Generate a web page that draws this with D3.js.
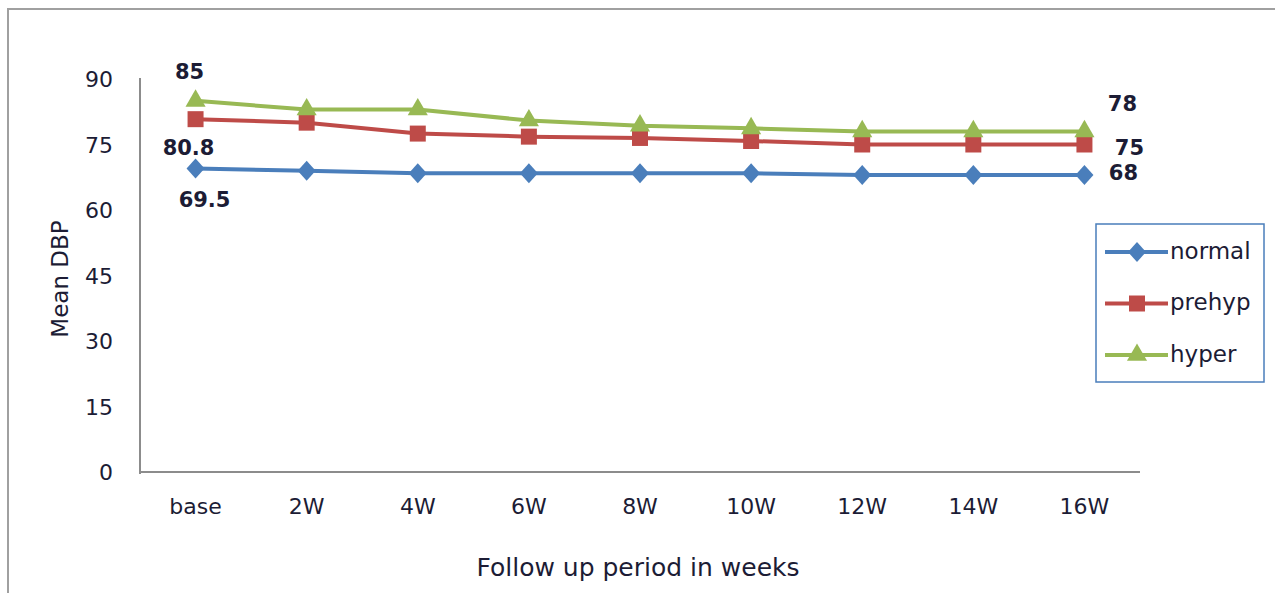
<!DOCTYPE html>
<html>
<head>
<meta charset="utf-8">
<script src="https://cdn.jsdelivr.net/npm/d3@7/dist/d3.min.js"></script>
<style>
  html, body { margin: 0; padding: 0; background: #fff; }
  svg { display: block; }
  text { font-family: "DejaVu Sans", Verdana, sans-serif; }
</style>
</head>
<body>
<svg id="chart" width="1275" height="593"></svg>
<script>
// Follow-up periods
const categories = ["base", "2W", "4W", "6W", "8W", "10W", "12W", "14W", "16W"];
// Mean diastolic blood pressure per group
const normalValues = [69.5, 69, 68.4, 68.4, 68.4, 68.4, 68, 68, 68];
const prehypValues = [80.8, 80, 77.5, 76.8, 76.5, 75.8, 75, 75, 75];
const hyperValues  = [85, 83, 83, 80.5, 79.3, 78.7, 78, 78, 78];
const yTicks = [0, 15, 30, 45, 60, 75, 90];

const seriesNames = ["normal", "prehyp", "hyper"];
const seriesColors = ["#4a7ebb", "#be4b48", "#98b954"];
const seriesValues = [normalValues, prehypValues, hyperValues];

// marker shapes: diamond (rotated square), square, triangle
const diamond = { draw(ctx, size) { const w = 9, h = 10; ctx.moveTo(0, -h); ctx.lineTo(w, 0); ctx.lineTo(0, h); ctx.lineTo(-w, 0); ctx.closePath(); } };
const seriesShapes = [diamond, d3.symbolSquare, d3.symbolTriangle];
const seriesSizes = [1, 256, 175];

const svg = d3.select("#chart");
const ink = "#1c1c35";

// outer frame
svg.append("rect")
  .attr("x", 8).attr("y", 9)
  .attr("width", 1290).attr("height", 600)
  .attr("fill", "none").attr("stroke", "#a0a0a0").attr("stroke-width", 2);

const plot = { left: 140, right: 1140, top: 79, bottom: 472 };

const x = d3.scaleBand().domain(categories).range([plot.left, plot.right]);
const y = d3.scaleLinear().domain([0, 90]).range([plot.bottom, plot.top]);

// axes
const yAxis = svg.append("g")
  .attr("transform", `translate(${plot.left},0)`)
  .call(d3.axisLeft(y).tickValues(yTicks).tickSize(0).tickPadding(27));
yAxis.select(".domain").attr("stroke", "#8c8c8c").attr("stroke-width", 2).attr("d", `M0,${plot.top - 1}V${plot.bottom + 2}`);
yAxis.selectAll("text").attr("font-size", 22).attr("fill", ink).attr("dy", "0.35em");

const xAxis = svg.append("g")
  .attr("transform", `translate(0,${plot.bottom})`)
  .call(d3.axisBottom(x).tickSize(0).tickPadding(26));
xAxis.select(".domain").attr("stroke", "#8c8c8c").attr("stroke-width", 2).attr("d", `M${plot.left - 1},0H${plot.right}`);
xAxis.selectAll("text").attr("font-size", 22).attr("fill", ink);

// axis titles
svg.append("text")
  .attr("x", 638).attr("y", 576)
  .attr("text-anchor", "middle")
  .attr("font-size", 25).attr("fill", ink)
  .text("Follow up period in weeks");

svg.append("text")
  .attr("transform", "translate(68,279) rotate(-90)")
  .attr("text-anchor", "middle")
  .attr("font-size", 23).attr("fill", ink)
  .text("Mean DBP");

// series lines and markers
const cx = c => x(c) + x.bandwidth() / 2;
const line = d3.line().x((d, i) => cx(categories[i])).y(d => y(d));

seriesValues.forEach((vals, s) => {
  svg.append("path")
    .datum(vals)
    .attr("d", line)
    .attr("fill", "none")
    .attr("stroke", seriesColors[s])
    .attr("stroke-width", 4);
  svg.append("g").selectAll("path")
    .data(vals)
    .join("path")
    .attr("transform", (d, i) => `translate(${cx(categories[i])},${y(d)})`)
    .attr("d", d3.symbol().type(seriesShapes[s]).size(seriesSizes[s]))
    .attr("fill", seriesColors[s]);
});

// value labels at the first and last point of each series
const first = categories[0], last = categories[categories.length - 1];
const labels = [
  { cat: first, v: hyperValues[0],  dx: -6, dy: -29 },
  { cat: first, v: prehypValues[0], dx: -7, dy: 28 },
  { cat: first, v: normalValues[0], dx: 9,  dy: 31 },
  { cat: last,  v: hyperValues[8],  dx: 38, dy: -28 },
  { cat: last,  v: prehypValues[8], dx: 45, dy: 3 },
  { cat: last,  v: normalValues[8], dx: 39, dy: -2 }
];
svg.append("g").selectAll("text")
  .data(labels)
  .join("text")
  .attr("x", d => cx(d.cat) + d.dx)
  .attr("y", d => y(d.v) + d.dy)
  .attr("dy", "0.35em")
  .attr("text-anchor", "middle")
  .attr("font-size", 21).attr("font-weight", "bold").attr("fill", ink)
  .text(d => d.v);

// legend
const legend = svg.append("g");
legend.append("rect")
  .attr("x", 1096).attr("y", 224)
  .attr("width", 168).attr("height", 158)
  .attr("fill", "#fff").attr("stroke", "#4a7ebb").attr("stroke-width", 1.5);
const legendY = d3.scalePoint().domain(seriesNames).range([252, 355]);
seriesNames.forEach((name, s) => {
  const ly = legendY(name);
  legend.append("line")
    .attr("x1", 1105).attr("x2", 1168)
    .attr("y1", ly).attr("y2", ly)
    .attr("stroke", seriesColors[s]).attr("stroke-width", 4);
  legend.append("path")
    .attr("transform", `translate(1137,${ly})`)
    .attr("d", d3.symbol().type(seriesShapes[s]).size(seriesSizes[s]))
    .attr("fill", seriesColors[s]);
  legend.append("text")
    .attr("x", 1170).attr("y", ly)
    .attr("dy", "0.3em")
    .attr("font-size", 23).attr("fill", ink)
    .text(name);
});
</script>
</body>
</html>
